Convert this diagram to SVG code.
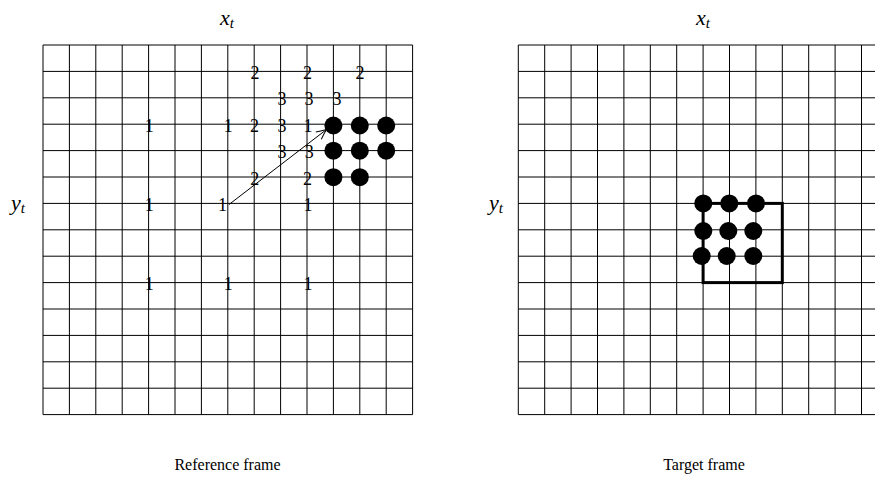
<svg xmlns="http://www.w3.org/2000/svg" width="875" height="480" viewBox="0 0 875 480">
<style>
.grid{fill:none;stroke:#000;stroke-width:1}
.num{font-family:"Liberation Serif",serif;font-size:18px;text-anchor:middle;fill:#000}
.math{font-family:"Liberation Serif",serif;font-style:italic;font-size:22px;text-anchor:middle;fill:#000}
.cap{font-family:"Liberation Serif",serif;font-size:16px;text-anchor:middle;fill:#000}
.dot{fill:#000}
</style>
<defs>
<marker id="arr" markerUnits="userSpaceOnUse" markerWidth="14" markerHeight="12" refX="12" refY="6" orient="auto" viewBox="0 0 14 12">
<path d="M2,1.5 Q8,4.5 12,6 Q8,7.5 2,10.5" fill="none" stroke="#000" stroke-width="1"/>
</marker>
</defs>
<rect width="875" height="480" fill="#fff"/>
<g id="reference-grid" class="grid">
<path d="M43,45V414.6M69.4,45V414.6M95.8,45V414.6M122.2,45V414.6M148.6,45V414.6M175,45V414.6M201.4,45V414.6M227.8,45V414.6M254.2,45V414.6M280.6,45V414.6M307,45V414.6M333.4,45V414.6M359.8,45V414.6M386.2,45V414.6M412.6,45V414.6M43,45H412.6M43,71.4H412.6M43,97.8H412.6M43,124.2H412.6M43,150.6H412.6M43,177H412.6M43,203.4H412.6M43,229.8H412.6M43,256.2H412.6M43,282.6H412.6M43,309H412.6M43,335.4H412.6M43,361.8H412.6M43,388.2H412.6M43,414.6H412.6"/>
</g>
<g id="target-grid" class="grid">
<path d="M518.3,45V414.6M544.7,45V414.6M571.1,45V414.6M597.5,45V414.6M623.9,45V414.6M650.3,45V414.6M676.7,45V414.6M703.1,45V414.6M729.5,45V414.6M755.9,45V414.6M782.3,45V414.6M808.7,45V414.6M835.1,45V414.6M861.5,45V414.6M887.9,45V414.6M518.3,45H887.9M518.3,71.4H887.9M518.3,97.8H887.9M518.3,124.2H887.9M518.3,150.6H887.9M518.3,177H887.9M518.3,203.4H887.9M518.3,229.8H887.9M518.3,256.2H887.9M518.3,282.6H887.9M518.3,309H887.9M518.3,335.4H887.9M518.3,361.8H887.9M518.3,388.2H887.9M518.3,414.6H887.9"/>
</g>
<g id="labels-1">
<text class="num" x="149.2" y="131.8">1</text>
<text class="num" x="149.2" y="211">1</text>
<text class="num" x="149.2" y="290.2">1</text>
<text class="num" x="228.3" y="131.8">1</text>
<text class="num" x="222.5" y="211">1</text>
<text class="num" x="228.3" y="290.2">1</text>
<text class="num" x="308" y="131.8">1</text>
<text class="num" x="308" y="211">1</text>
<text class="num" x="308" y="290.2">1</text>
</g>
<g id="labels-2">
<text class="num" x="255" y="79">2</text>
<text class="num" x="307.5" y="79">2</text>
<text class="num" x="360" y="79">2</text>
<text class="num" x="254.5" y="131.8">2</text>
<text class="num" x="254.7" y="184.6">2</text>
<text class="num" x="307.5" y="184.6">2</text>
</g>
<g id="labels-3">
<text class="num" x="282" y="105.4">3</text>
<text class="num" x="309" y="105.4">3</text>
<text class="num" x="337" y="105.4">3</text>
<text class="num" x="282" y="131.8">3</text>
<text class="num" x="282" y="158.2">3</text>
<text class="num" x="309.3" y="158.2">3</text>
</g>
<g id="reference-block">
<circle class="dot" cx="333.4" cy="125.5" r="9"/>
<circle class="dot" cx="359.8" cy="125.5" r="9"/>
<circle class="dot" cx="386.2" cy="125.5" r="9"/>
<circle class="dot" cx="333.4" cy="150.7" r="9"/>
<circle class="dot" cx="359.8" cy="150.7" r="9"/>
<circle class="dot" cx="386.2" cy="150.7" r="9"/>
<circle class="dot" cx="333.4" cy="177.2" r="9"/>
<circle class="dot" cx="359.8" cy="177.2" r="9"/>
</g>
<g id="target-block">
<rect x="703.1" y="203.4" width="79.2" height="79.2" fill="none" stroke="#000" stroke-width="3"/>
<circle class="dot" cx="703.3" cy="203.4" r="9"/>
<circle class="dot" cx="729.3" cy="203.4" r="9"/>
<circle class="dot" cx="756" cy="203.4" r="9"/>
<circle class="dot" cx="703.3" cy="231" r="9"/>
<circle class="dot" cx="728.3" cy="231" r="9"/>
<circle class="dot" cx="753.3" cy="231" r="9"/>
<circle class="dot" cx="701.7" cy="256" r="9"/>
<circle class="dot" cx="726.7" cy="256" r="9"/>
<circle class="dot" cx="753.3" cy="256" r="9"/>
</g>
<g id="connectors">
<line x1="229" y1="204.5" x2="326.5" y2="129.5" stroke="#000" stroke-width="1" marker-end="url(#arr)"/>
</g>
<g id="axis-labels">
<text class="math" x="227" y="25">x<tspan font-size="15" dy="3">t</tspan></text>
<text class="math" x="703" y="25">x<tspan font-size="15" dy="3">t</tspan></text>
<text class="math" x="18" y="210">y<tspan font-size="15" dy="3">t</tspan></text>
<text class="math" x="496" y="210">y<tspan font-size="15" dy="3">t</tspan></text>
</g>
<g id="captions">
<text class="cap" x="227.5" y="470">Reference frame</text>
<text class="cap" x="704" y="470">Target frame</text>
</g>
</svg>
